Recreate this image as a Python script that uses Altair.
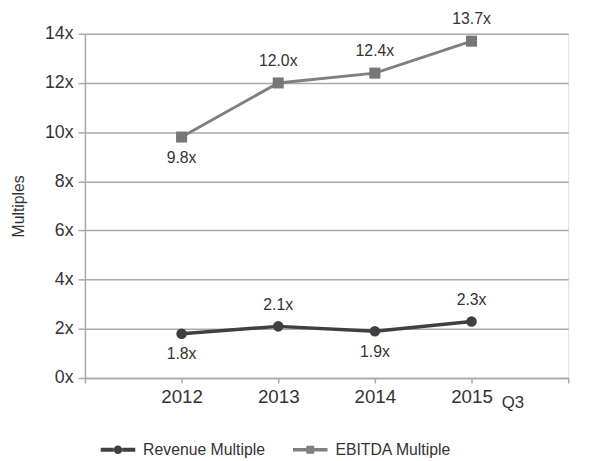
import altair as alt
import pandas as pd

years = ["2012", "2013", "2014", "2015"]
positions = [1, 2, 3, 4]
revenue = [1.8, 2.1, 1.9, 2.3]
ebitda = [9.8, 12.0, 12.4, 13.7]
revenue_label_side = ["below", "above", "below", "above"]
ebitda_label_side = ["below", "above", "above", "above"]
series_names = ["Revenue Multiple", "EBITDA Multiple"]
series_colors = ["#404040", "#808080"]

rows = []
for name, vals, sides in [(series_names[0], revenue, revenue_label_side),
                          (series_names[1], ebitda, ebitda_label_side)]:
    for p, y, v, s in zip(positions, years, vals, sides):
        rows.append({"series": name, "pos": p, "year": y, "value": v,
                     "label": f"{v:.1f}x", "side": s})
df = pd.DataFrame(rows)

FONT = "Liberation Sans"
GRID = "#a9a9a9"
TXT = "#333333"

rev_path = ("M-1,-0.11H-0.25V0.11H-1Z M0.25,-0.11H1V0.11H0.25Z "
            "M0.25,0A0.25,0.25 0 1 1 -0.25,0A0.25,0.25 0 1 1 0.25,0Z")
ebit_path = ("M-1,-0.1H-0.23V0.1H-1Z M0.23,-0.1H1V0.1H0.23Z "
             "M-0.23,-0.23H0.23V0.23H-0.23Z")

x_enc = alt.X("pos:Q", scale=alt.Scale(domain=[0, 5], nice=False),
              axis=alt.Axis(values=[0, 1, 2, 3, 4, 5], title=None, grid=False,
                            labelExpr="datum.value === 1 ? '2012' : datum.value === 2 ? '2013' : datum.value === 3 ? '2014' : datum.value === 4 ? '2015' : ''",
                            labelFontSize=19, labelColor=TXT, labelFont=FONT,
                            labelPadding=5, tickSize=5, tickColor=GRID, tickWidth=1.5,
                            domainColor=GRID, domainWidth=1.5))
y_enc = alt.Y("value:Q", scale=alt.Scale(domain=[0, 14], nice=False),
              axis=alt.Axis(values=list(range(0, 15, 2)), title="Multiples",
                            labelExpr="datum.value + 'x'",
                            labelFontSize=18, labelColor=TXT, labelFont=FONT,
                            labelPadding=5, tickSize=7, tickColor=GRID, tickWidth=1.5,
                            domainColor=GRID, domainWidth=1.5,
                            gridColor=GRID, gridWidth=1.5,
                            titleFont=FONT, titleFontSize=16, titleFontWeight="normal",
                            titleColor=TXT, titlePadding=18))

base = alt.Chart(df)
color_scale = alt.Scale(domain=series_names, range=series_colors)

legend = alt.Legend(
    title=None, orient="none", legendX=16, legendY=404, direction="horizontal",
    labelFont=FONT, labelFontSize=16, labelColor=TXT, symbolSize=1225,
    labelOffset=8, columnPadding=28, padding=0, symbolOpacity=1,
    symbolStrokeWidth=0)

rev_df = base.transform_filter(alt.datum.series == series_names[0])
ebit_df = base.transform_filter(alt.datum.series == series_names[1])

rev_line = rev_df.mark_line(strokeWidth=3.5, color=series_colors[0]).encode(x=x_enc, y=y_enc)
ebit_line = ebit_df.mark_line(strokeWidth=3, color=series_colors[1]).encode(x=x_enc, y=y_enc)

legend_layer = base.mark_point(filled=True, opacity=0, size=1225).encode(
    x="pos:Q", y="value:Q",
    color=alt.Color("series:N", scale=color_scale, legend=legend),
    shape=alt.Shape("series:N", scale=alt.Scale(domain=series_names, range=[rev_path, ebit_path]),
                    legend=legend))

circles = rev_df.mark_point(
    shape="circle", filled=True, size=115, opacity=1, color=series_colors[0]).encode(x="pos:Q", y="value:Q")
squares = ebit_df.mark_point(
    shape="square", filled=True, size=125, opacity=1, color="#777777").encode(x="pos:Q", y="value:Q")

above = base.transform_filter(alt.datum.side == "above").mark_text(
    dy=-22, font=FONT, fontSize=16, color=TXT).encode(x="pos:Q", y="value:Q", text="label:N")
below = base.transform_filter(alt.datum.side == "below").mark_text(
    dy=21, font=FONT, fontSize=16, color=TXT).encode(x="pos:Q", y="value:Q", text="label:N")

q3 = alt.Chart(pd.DataFrame({"pos": [4], "t": ["Q3"]})).mark_text(
    dx=42, dy=25, font=FONT, fontSize=17, color=TXT).encode(
    x="pos:Q", y=alt.datum(0), text="t:N")

chart = alt.layer(rev_line, ebit_line, legend_layer, circles, squares, above, below, q3).properties(
    width=490, height=349,
    autosize=alt.AutoSizeParams(type="none"),
    padding={"left": 78, "top": 23, "right": 14, "bottom": 80},
).configure_view(stroke=None).configure(background="white")

chart.save("out.html", embed_options={"renderer": "svg", "actions": False})
